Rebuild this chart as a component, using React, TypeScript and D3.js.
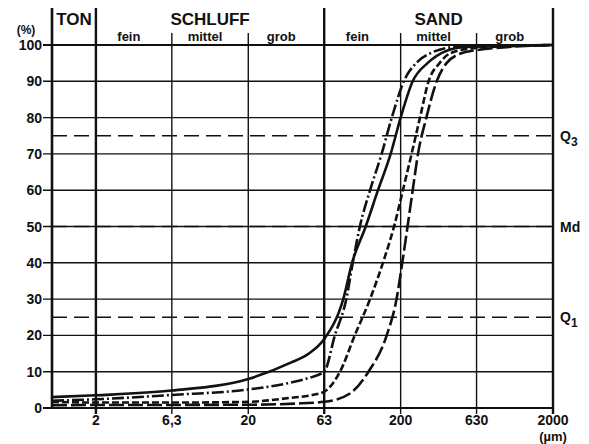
import React, { useEffect, useRef } from 'react';
import * as d3 from 'd3';

// Korngrößen-Summenkurven (Korngröße in µm, Summenprozent)
const curveSolid = [
  [1.03, 3.0], [2, 3.5], [6.3, 4.8], [20, 8], [38, 12.5], [50, 15], [63, 19],
  [84, 30], [96, 40], [118, 50], [142, 60], [172, 70], [200, 80], [240, 90],
  [300, 95], [345, 97], [514, 99.4], [2000, 100]
];
const curveDashDot = [
  [1.03, 2.0], [2, 2.4], [6.3, 3.6], [20, 5.1], [38, 7], [50, 8.3], [63, 10],
  [74, 20], [88, 30], [97, 40], [108, 50], [126, 60], [150, 70], [175, 80],
  [210, 90], [260, 95.5], [312, 97.7], [467, 99.5], [2000, 100]
];
const curveShortDash = [
  [1.03, 1.7], [2, 1.5], [6.3, 1.5], [20, 1.7], [38, 2.8], [50, 3.4], [63, 4.5],
  [80, 10], [100, 20], [126, 30], [153, 40], [181, 50], [207, 60], [236, 70],
  [268, 80], [305, 90], [360, 95], [422, 97.7], [598, 99.1], [2000, 100]
];
const curveLongDash = [
  [1.03, 0.8], [20, 0.9], [45, 1.3], [63, 1.7], [93, 4], [123, 10], [162, 20],
  [188, 30], [205, 40], [222, 50], [240, 60], [260, 70], [295, 80], [345, 90],
  [400, 95], [467, 97.2], [632, 98.6], [2000, 100]
];

const sizeTicks = [2, 6.3, 20, 63, 200, 630, 2000];
const sizeTickLabels = ['2', '6,3', '20', '63', '200', '630', '2000'];
const pctTicks = [0, 10, 20, 30, 40, 50, 60, 70, 80, 90, 100];
const mainBounds = [2, 63]; // Grenzen Ton/Schluff/Sand
const mainFractions = [
  { name: 'TON', lo: 1.03, hi: 2 },
  { name: 'SCHLUFF', lo: 2, hi: 63 },
  { name: 'SAND', lo: 63, hi: 2000 }
];
const subFractions = [
  { name: 'fein', lo: 2, hi: 6.3 },
  { name: 'mittel', lo: 6.3, hi: 20 },
  { name: 'grob', lo: 20, hi: 63 },
  { name: 'fein', lo: 63, hi: 200 },
  { name: 'mittel', lo: 200, hi: 630 },
  { name: 'grob', lo: 630, hi: 2000 }
];
const quartiles = [
  { p: 75, label: 'Q', sub: '3' },
  { p: 50, label: 'Md', sub: '' },
  { p: 25, label: 'Q', sub: '1' }
];

const App = () => {
  const svgRef = useRef<SVGSVGElement>(null);

  useEffect(() => {
    const svg = d3.select(svgRef.current);
    svg.selectAll('*').remove();

    const width = 589;
    const height = 444;
    const left = 52, right = 553, top = 45, bottom = 408;
    const font = 'Liberation Sans, Arial, Helvetica, sans-serif';

    svg.append('rect').attr('width', width).attr('height', height).attr('fill', '#fff');

    const x = d3.scaleLog().domain([1.03, 2000]).range([left, right]);
    const y = d3.scaleLinear().domain([0, 100]).range([bottom, top]);

    const g = svg.append('g');

    // horizontale Gitterlinien
    g.selectAll('.hgrid')
      .data(pctTicks)
      .enter().append('line')
      .attr('x1', left - 9)
      .attr('x2', right)
      .attr('y1', d => y(d))
      .attr('y2', d => y(d))
      .attr('stroke', '#111')
      .attr('stroke-width', d => (d === 0 || d === 100 ? 2.2 : 1.4));

    // vertikale Gitterlinien
    g.selectAll('.vgrid')
      .data(sizeTicks)
      .enter().append('line')
      .attr('x1', d => x(d))
      .attr('x2', d => x(d))
      .attr('y1', d => (mainBounds.includes(d) || d === 2000 ? 8 : 33))
      .attr('y2', bottom + 6)
      .attr('stroke', '#111')
      .attr('stroke-width', d => (mainBounds.includes(d) || d === 2000 ? 2.4 : 1.4));

    // linker Rahmen
    g.append('line')
      .attr('x1', left).attr('x2', left)
      .attr('y1', 8).attr('y2', bottom)
      .attr('stroke', '#111')
      .attr('stroke-width', 2.6);

    // Quartil-Linien
    const q = g.selectAll('.quart')
      .data(quartiles)
      .enter().append('g');

    q.append('line')
      .attr('x1', left)
      .attr('x2', right + 5)
      .attr('y1', d => y(d.p))
      .attr('y2', d => y(d.p))
      .attr('stroke', '#111')
      .attr('stroke-width', 1.5)
      .attr('stroke-dasharray', '15,7');

    const qText = q.append('text')
      .attr('x', right + 7)
      .attr('y', d => y(d.p) + 5)
      .style('font-family', font)
      .style('font-size', '14px')
      .style('font-weight', 'bold')
      .style('fill', '#111');
    qText.append('tspan').text(d => d.label);
    qText.append('tspan')
      .attr('dy', 5)
      .style('font-size', '12px')
      .text(d => d.sub);

    // Kurven
    const line = d3.line<number[]>()
      .x(d => x(d[0]))
      .y(d => y(d[1]))
      .curve(d3.curveMonotoneX);

    const curves = [
      { data: curveLongDash, dash: '15,4' },
      { data: curveShortDash, dash: '7,3' },
      { data: curveDashDot, dash: '12,3,2,3' },
      { data: curveSolid, dash: null }
    ];

    g.selectAll('.curve')
      .data(curves)
      .enter().append('path')
      .attr('d', d => line(d.data))
      .attr('fill', 'none')
      .attr('stroke', '#111')
      .attr('stroke-width', 2.6)
      .attr('stroke-dasharray', d => d.dash);

    // Y-Achse
    g.selectAll('.ylab')
      .data(pctTicks)
      .enter().append('text')
      .attr('x', left - 10)
      .attr('y', d => y(d) + 5)
      .attr('text-anchor', 'end')
      .style('font-family', font)
      .style('font-size', '14px')
      .style('font-weight', 'bold')
      .style('fill', '#111')
      .text(d => d);

    g.append('text')
      .attr('x', 26)
      .attr('y', 34)
      .attr('text-anchor', 'middle')
      .style('font-family', font)
      .style('font-size', '12px')
      .style('font-weight', 'bold')
      .style('fill', '#111')
      .text('(%)');

    // X-Achse
    g.selectAll('.xlab')
      .data(sizeTicks)
      .enter().append('text')
      .attr('x', d => x(d))
      .attr('y', bottom + 17)
      .attr('text-anchor', 'middle')
      .style('font-family', font)
      .style('font-size', '14px')
      .style('font-weight', 'bold')
      .style('fill', '#111')
      .text((d, i) => sizeTickLabels[i]);

    g.append('text')
      .attr('x', right)
      .attr('y', bottom + 33)
      .attr('text-anchor', 'middle')
      .style('font-family', font)
      .style('font-size', '13px')
      .style('font-weight', 'bold')
      .style('fill', '#111')
      .text('(µm)');

    // Kopfzeile mit Fraktionen
    g.selectAll('.frac')
      .data(mainFractions)
      .enter().append('text')
      .attr('x', d => (x(d.lo) + x(d.hi)) / 2)
      .attr('y', 25)
      .attr('text-anchor', 'middle')
      .style('font-family', font)
      .style('font-size', '17px')
      .style('font-weight', 'bold')
      .style('fill', '#111')
      .text(d => d.name);

    g.selectAll('.subfrac')
      .data(subFractions)
      .enter().append('text')
      .attr('x', d => (x(d.lo) + x(d.hi)) / 2 - 5)
      .attr('y', 41)
      .attr('text-anchor', 'middle')
      .style('font-family', font)
      .style('font-size', '13px')
      .style('font-weight', 'bold')
      .style('fill', '#111')
      .text(d => d.name);
  }, []);

  return (
    <svg
      ref={svgRef}
      width={589}
      height={444}
      style={{ position: 'absolute', left: 0, top: 0 }}
    />
  );
};

export default App;
